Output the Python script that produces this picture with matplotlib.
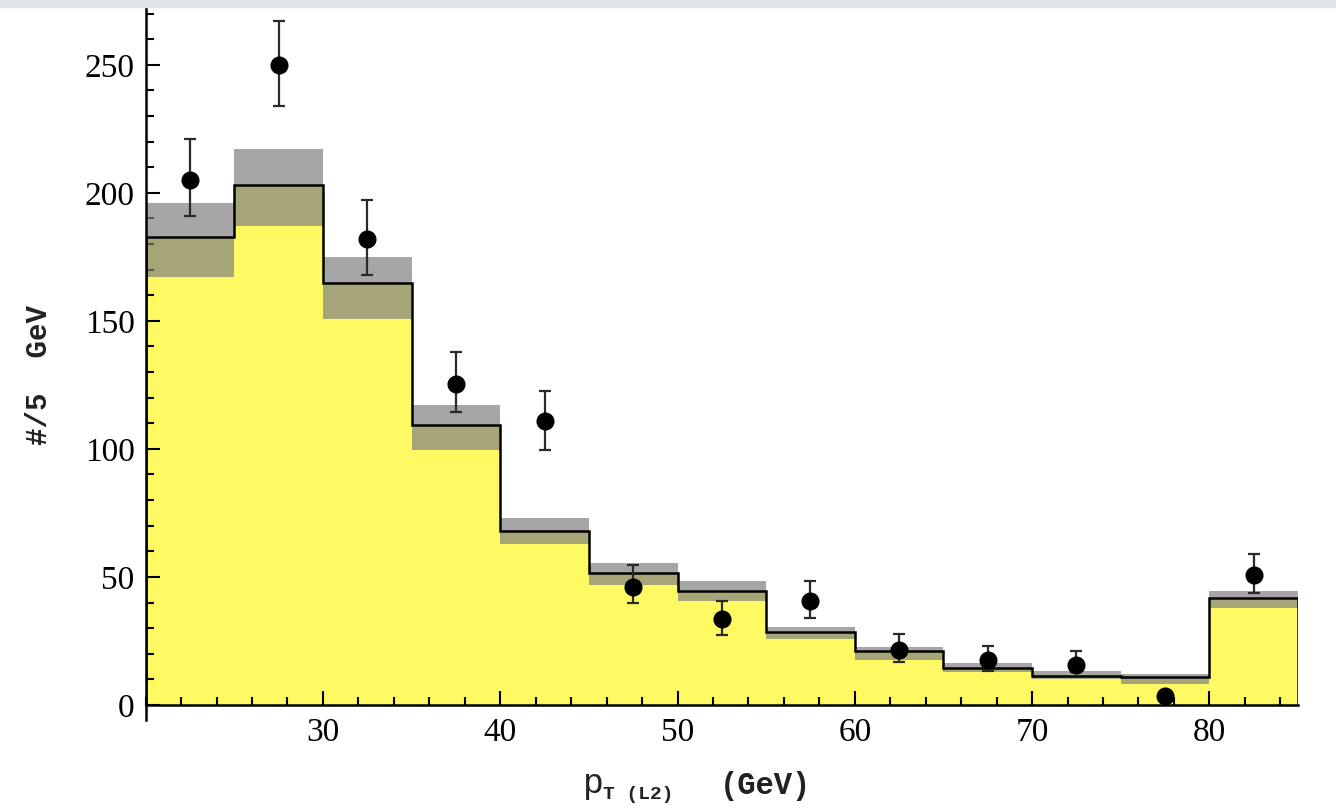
import matplotlib
matplotlib.use('Agg')
import matplotlib.pyplot as plt
import numpy as np
from matplotlib.ticker import MultipleLocator
from matplotlib.patches import Rectangle

# bin edges of the pT(L2) histogram (GeV)
edges = [20, 25, 30, 35, 40, 45, 50, 55, 60, 65, 70, 75, 80, 85]

# expected counts: central value and band limits
central = [182.6, 203, 164.7, 109.4, 68.1, 51.4, 44.4, 28.4, 21.0, 14.4, 11.3, 10.9, 41.6]
upper = [196, 217, 175, 117, 73.2, 55.3, 48.3, 30.4, 22.6, 16.4, 13.3, 12.0, 44.4]
lower = [167, 187, 150.7, 99.7, 63, 47, 40.5, 25.7, 17.5, 12.8, 10.0, 8.2, 37.8]

# observed points
data_x = [22.5, 27.5, 32.5, 37.5, 42.5, 47.5, 52.5, 57.5, 62.5, 67.5, 72.5, 77.5, 82.5]
data_y = [205, 250, 182, 125.4, 111, 46, 33.5, 40.5, 21.4, 17.5, 15.6, 3.5, 50.6]
err_lo = [14, 16, 14, 11, 11.3, 6.3, 6.2, 6.5, 4.7, 4.2, 2.8, 1.5, 7.0]
err_hi = [16, 17, 15, 12.6, 11.7, 8.5, 7.1, 7.8, 6.2, 5.5, 5.4, 1.5, 8.2]

plt.rcParams['font.family'] = ['Liberation Serif', 'DejaVu Serif']

fig = plt.figure(figsize=(13.36, 8.09), dpi=100)
ax = fig.add_axes([0.109, 0.1286, 0.8626, 0.861])

# grey strip along the top edge of the screenshot
fig.patches.append(Rectangle((0, 0.991), 1, 0.009, transform=fig.transFigure,
                             color='#e2e5e8', zorder=0))

ax.stairs(central, edges, baseline=0, fill=True, color='#fffa64', lw=0, zorder=1)
ax.stairs(upper, edges, baseline=lower, fill=True, color='#818181', alpha=0.7, lw=0, zorder=2)
ax.stairs(central, edges, baseline=0, color='black', lw=1.8, zorder=3)

ax.errorbar(data_x, data_y, yerr=[err_lo, err_hi], fmt='o', color='black',
            ecolor='#2a2a2a', elinewidth=1.6, capsize=4, capthick=1.6,
            markersize=12, zorder=4)

ax.set_xlim(20, 85)
ax.set_ylim(0, 272)

ax.spines['top'].set_visible(False)
ax.spines['right'].set_visible(False)
ax.spines['left'].set_linewidth(1.8)
ax.spines['bottom'].set_linewidth(1.8)
ax.spines['left'].set_bounds(-6, 272)

ax.xaxis.set_major_locator(MultipleLocator(10))
ax.xaxis.set_minor_locator(MultipleLocator(2))
ax.yaxis.set_major_locator(MultipleLocator(50))
ax.yaxis.set_minor_locator(MultipleLocator(10))
ax.tick_params(which='both', direction='in', width=1.5, labelsize=24)
ax.tick_params(which='major', length=10)
ax.tick_params(which='minor', length=6)
ax.tick_params(axis='x', pad=9)
ax.tick_params(axis='y', pad=8)
ax.set_xticks([30, 40, 50, 60, 70, 80])

mono = {'family': 'Liberation Mono', 'weight': 'bold', 'color': '#222222'}
fig.text(0.029, 0.536, '#/5  GeV', rotation=90, ha='center', va='center',
         fontsize=21, **mono)
fig.text(0.436, 0.020, 'p', ha='left', va='baseline', fontsize=25,
         family='Liberation Mono', color='#222222')
fig.text(0.451, 0.012, 'T (L2)', ha='left', va='baseline', fontsize=14,
         family='Liberation Mono', weight='bold', color='#222222')
fig.text(0.573, 0.018, '(GeV)', ha='center', va='baseline', fontsize=22, **mono)

fig.savefig('out.png', dpi=100)
